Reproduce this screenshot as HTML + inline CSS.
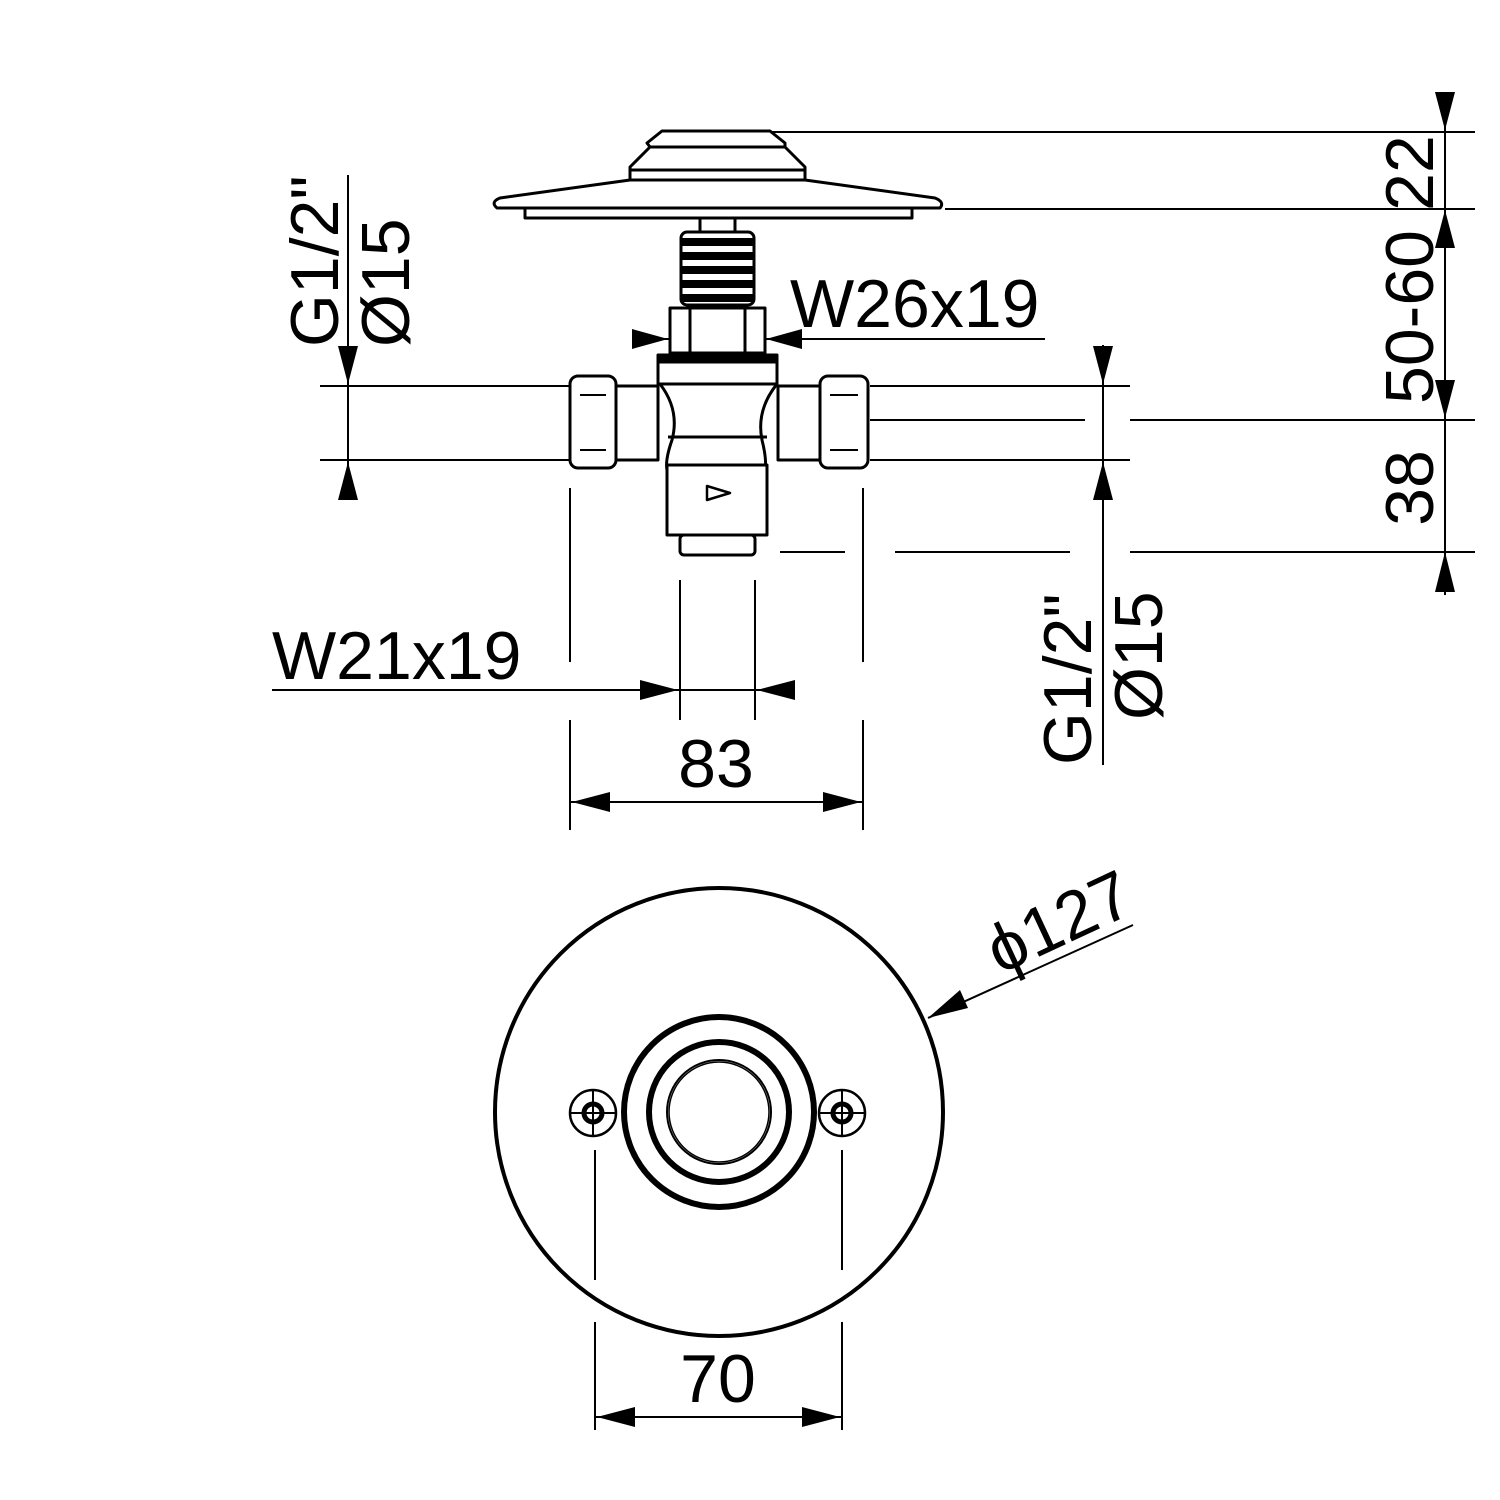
<!DOCTYPE html>
<html><head><meta charset="utf-8"><style>html,body{margin:0;padding:0;background:#fff}svg{display:block}</style></head><body>
<svg width="1500" height="1500" viewBox="0 0 1500 1500" xmlns="http://www.w3.org/2000/svg" font-family="Liberation Sans, sans-serif" font-size="68">
<g stroke="#000" stroke-width="2" fill="none">
<line x1="770" y1="132" x2="1475" y2="132"/>
<line x1="945" y1="209" x2="1475" y2="209"/>
<line x1="870" y1="420" x2="1085" y2="420"/>
<line x1="1130" y1="420" x2="1475" y2="420"/>
<line x1="1130" y1="552" x2="1475" y2="552"/>
<line x1="780" y1="552" x2="845" y2="552"/>
<line x1="895" y1="552" x2="1070" y2="552"/>
<line x1="1445" y1="92" x2="1445" y2="595"/>
<line x1="320" y1="386" x2="570" y2="386"/>
<line x1="320" y1="460" x2="570" y2="460"/>
<line x1="870" y1="386" x2="1130" y2="386"/>
<line x1="870" y1="460" x2="1130" y2="460"/>
<line x1="348" y1="175" x2="348" y2="495"/>
<line x1="1103" y1="345" x2="1103" y2="765"/>
<line x1="632" y1="339" x2="1045" y2="339"/>
<line x1="272" y1="690" x2="795" y2="690"/>
<line x1="680" y1="580" x2="680" y2="720"/>
<line x1="755" y1="580" x2="755" y2="720"/>
<line x1="570" y1="488" x2="570" y2="662"/>
<line x1="570" y1="720" x2="570" y2="830"/>
<line x1="863" y1="488" x2="863" y2="662"/>
<line x1="863" y1="720" x2="863" y2="830"/>
<line x1="570" y1="802" x2="863" y2="802"/>
<line x1="595" y1="1150" x2="595" y2="1280"/>
<line x1="595" y1="1322" x2="595" y2="1430"/>
<line x1="842" y1="1150" x2="842" y2="1270"/>
<line x1="842" y1="1322" x2="842" y2="1430"/>
<line x1="595" y1="1417" x2="842" y2="1417"/>
<line x1="928" y1="1018" x2="1133" y2="925"/>
</g>
<g fill="#000">
<polygon points="1435,92 1455,92 1445,130"/>
<polygon points="1435,248 1455,248 1445,210"/>
<polygon points="1435,380 1455,380 1445,418"/>
<polygon points="1435,592 1455,592 1445,552"/>
<polygon points="338,346 358,346 348,384"/>
<polygon points="338,500 358,500 348,462"/>
<polygon points="1093,346 1113,346 1103,384"/>
<polygon points="1093,500 1113,500 1103,462"/>
<polygon points="632,329 632,349 668,339"/>
<polygon points="802,329 802,349 766,339"/>
<polygon points="640,680 640,700 678,690"/>
<polygon points="795,680 795,700 757,690"/>
<polygon points="610,792 610,812 572,802"/>
<polygon points="823,792 823,812 861,802"/>
<polygon points="635,1407 635,1427 597,1417"/>
<polygon points="802,1407 802,1427 840,1417"/>
<polygon points="928,1018 960,990 968,1008"/>
</g>
<g stroke="#000" stroke-width="3" fill="#fff" stroke-linejoin="round">
<path d="M662,131 L770,131 L785,143 L785,147 L805,167 L805,180 L935,198 Q945,202 940,208 L497,208 Q490,202 500,198 L630,180 L630,167 L650,147 L647,143 Z"/>
<line x1="650" y1="147" x2="785" y2="147"/>
<line x1="630" y1="170" x2="805" y2="170"/>
<line x1="630" y1="180" x2="805" y2="180"/>
<rect x="525" y="208" width="387" height="10"/>
<rect x="700" y="218" width="35" height="15"/>
<rect x="681" y="232" width="73" height="73" rx="6"/>
<path d="M682,242 H754 M682,256 H754 M682,270 H754 M682,284 H754 M682,298 H754" stroke-width="8"/>
<rect x="670" y="308" width="95" height="45"/>
<line x1="690" y1="308" x2="690" y2="353"/><line x1="745" y1="308" x2="745" y2="353"/>
<rect x="658" y="355" width="119" height="8" fill="#000"/>
<rect x="658" y="362" width="119" height="22"/>
<rect x="570" y="376" width="46" height="92" rx="8"/>
<rect x="616" y="386" width="42" height="74"/>
<rect x="820" y="376" width="48" height="92" rx="8"/>
<rect x="778" y="386" width="42" height="74"/>
<path d="M660,384 Q680,410 672,440 Q665,460 667,470 L765,470 Q767,460 762,440 Q756,410 777,384 Z"/>
<line x1="668" y1="437" x2="767" y2="437"/>
<rect x="667" y="465" width="100" height="70"/>
<rect x="680" y="535" width="75" height="20" rx="4"/>
<path d="M707,486 L730,493 L707,500 Z" stroke-width="2.5"/>
<line x1="580" y1="395" x2="606" y2="395" stroke-width="2"/><line x1="580" y1="450" x2="606" y2="450" stroke-width="2"/>
<line x1="830" y1="395" x2="858" y2="395" stroke-width="2"/><line x1="830" y1="450" x2="858" y2="450" stroke-width="2"/>
</g>
<g stroke="#000" fill="none">
<circle cx="719" cy="1112" r="224" stroke-width="4"/>
<circle cx="719" cy="1112" r="95" stroke-width="6"/>
<circle cx="719" cy="1112" r="70" stroke-width="6"/>
<circle cx="719" cy="1112" r="52" stroke-width="2"/>
<circle cx="719" cy="1112" r="50" stroke-width="1.5"/>
<circle cx="593" cy="1113" r="23" stroke-width="2.5"/>
<circle cx="842" cy="1113" r="23" stroke-width="2.5"/>
<circle cx="593" cy="1113" r="9" stroke-width="5"/>
<circle cx="842" cy="1113" r="9" stroke-width="5"/>
<path d="M593,1090 V1136 M570,1113 H616 M842,1090 V1136 M819,1113 H865" stroke-width="2"/>
</g>
<g fill="#000">
<text x="790" y="327">W26x19</text>
<text x="272" y="679">W21x19</text>
<text x="716" y="787" text-anchor="middle">83</text>
<text x="718" y="1402" text-anchor="middle">70</text>
<text transform="translate(1000,975) rotate(-25)">ϕ127</text>
<text transform="translate(1433,173) rotate(-90)" text-anchor="middle">22</text>
<text transform="translate(1433,317) rotate(-90)" text-anchor="middle">50-60</text>
<text transform="translate(1433,488) rotate(-90)" text-anchor="middle">38</text>
<text transform="translate(338,347) rotate(-90)">G1/2"</text>
<text transform="translate(409,347) rotate(-90)">Ø15</text>
<text transform="translate(1091,765) rotate(-90)">G1/2"</text>
<text transform="translate(1162,720) rotate(-90)">Ø15</text>
</g>
</svg>
</body></html>
